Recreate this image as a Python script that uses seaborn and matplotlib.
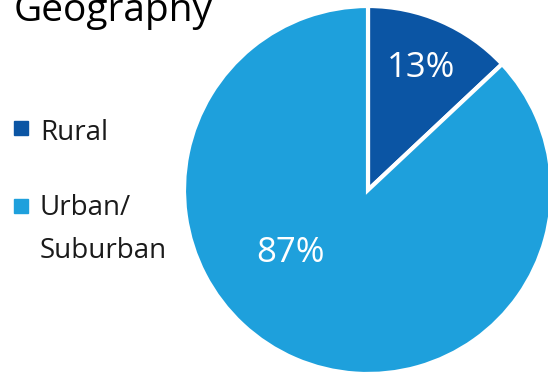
import matplotlib
matplotlib.use("Agg")
import matplotlib.pyplot as plt
import seaborn as sns
from matplotlib.patches import Rectangle

categories = ["Rural", "Urban/\nSuburban"]
values = [13, 87]
colors = ["#0B55A4", "#1EA0DC"]
title = "Geography"

sns.set_theme(style="white")
plt.rcParams['font.family'] = ['Open Sans', 'DejaVu Sans']

W, H = 548, 373
fig = plt.figure(figsize=(W / 100, H / 100), dpi=100)
fig.patch.set_facecolor("white")

cx, cy, r = 368, 190, 184
ax = fig.add_axes([(cx - r) / W, (H - cy - r) / H, 2 * r / W, 2 * r / H])

wedges, texts, autotexts = ax.pie(
    values, colors=colors, startangle=90, counterclock=False,
    autopct=lambda p: f"{p:.0f}%", pctdistance=0.72, radius=1,
    wedgeprops=dict(edgecolor="white", linewidth=3),
    textprops=dict(color="white", fontsize=25),
)
ax.set_xlim(-1, 1)
ax.set_ylim(-1, 1)
ax.set_aspect("auto")
ax.axis("off")
for w in wedges:
    w.set_clip_on(False)
# move the big slice label to match the reference placement
autotexts[1].set_position((-0.42, -0.34))
for t in autotexts:
    t.set_ha("center")
    t.set_va("center")

fig.text(14 / W, 1 - 21 / H, title, fontsize=28, color="black",
         ha="left", va="baseline")

label_baselines = [140, 258]
square_tops = [121, 199]
for cat, col, yb, st in zip(categories, colors, label_baselines, square_tops):
    fig.patches.append(Rectangle((14 / W, 1 - (st + 14) / H), 14 / W, 14 / H,
                                 transform=fig.transFigure, color=col))
    fig.text(40 / W, 1 - yb / H, cat, fontsize=20, color="#1a1a1a",
             ha="left", va="baseline", linespacing=1.7)

fig.savefig("out.png", dpi=100, facecolor="white")
